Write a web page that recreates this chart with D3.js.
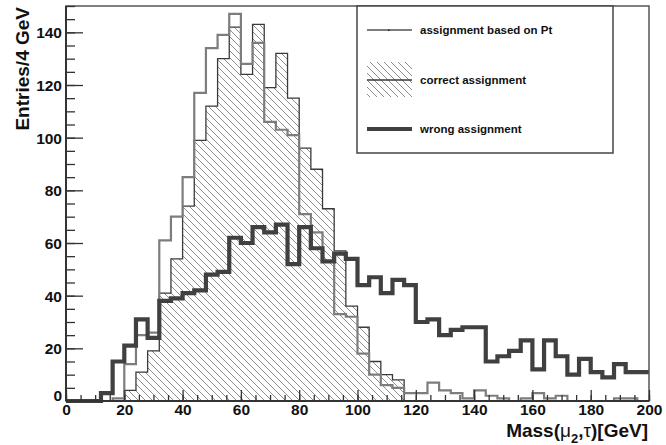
<!DOCTYPE html>
<html>
<head>
<meta charset="utf-8">
<script src="https://cdn.jsdelivr.net/npm/d3@7"></script>
<style>
  html, body { margin: 0; padding: 0; background: #fff; }
  svg { display: block; font-family: "Liberation Sans", Arial, Helvetica, sans-serif; }
</style>
</head>
<body>
<div id="chart"></div>
<script>
// bin low edges (4 GeV bins from 0 to 200)
const binEdges = [0,4,8,12,16,20,24,28,32,36,40,44,48,52,56,60,64,68,72,76,80,84,88,92,96,
    100,104,108,112,116,120,124,128,132,136,140,144,148,152,156,160,164,168,172,176,180,184,188,192,196];
const binWidth = 4;

// assignment based on Pt (grey line)
const ptBased = [0,0,0,0,1, 14,25,26,61,70, 85,117,134,139,147, 128,136,106,103,101,
    71,64,53,33,32, 18,10,6,5,3, 3,7,4,3,1, 4,2,1,0,1, 3,1,2,0,0, 0,0,1,1,0];
// correct assignment (hatched)
const correct = [0,0,0,0,0, 4,11,19,41,54, 74,99,112,130,142, 124,143,119,132,115,
    96,88,73,57,36, 28,15,10,8,0, 0,0,0,0,0, 0,0,0,0,0, 0,0,0,0,0, 0,0,0,0,0];
// wrong assignment (thick dark line)
const wrong = [0,0,0,3,15, 21,31,24,38,39, 41,42,48,49,62, 60,66,64,67,52,
    66,58,53,56,54, 44,47,41,46,44, 30,31,25,27,28, 28,15,17,19,23, 12,23,17,10,16, 11,9,14,11,11];

const yMajorTicks = [0,20,40,60,80,100,120,140];
const xMajorTicks = [0,20,40,60,80,100,120,140,160,180,200];
const legendLabels = ["assignment based on Pt", "correct assignment", "wrong assignment"];

const W = 666, H = 445;
const margin = {top: 6, right: 17, bottom: 44, left: 66};
const width = W - margin.left - margin.right,
      height = H - margin.top - margin.bottom;

const svg = d3.select("#chart").append("svg")
    .attr("width", W)
    .attr("height", H);

// hatch pattern (transparent between lines, like ROOT fill style)
const defs = svg.append("defs");
const hatch = defs.append("pattern")
    .attr("id", "hatch")
    .attr("patternUnits", "userSpaceOnUse")
    .attr("width", 7)
    .attr("height", 7);
hatch.append("path")
    .attr("d", "M0,0 L7,7 M-1,6 L1,8 M6,-1 L8,1")
    .attr("stroke", "#7a7a7a")
    .attr("stroke-width", 0.85);

const g = svg.append("g")
    .attr("transform", "translate(" + margin.left + "," + margin.top + ")");

const x = d3.scaleLinear().domain([0, 200]).range([0, width]);
const y = d3.scaleLinear().domain([0, 150]).range([height, 0]);

// step outline of a histogram
const stepPoints = (vals) => binEdges.flatMap((lo, i) => [[lo, vals[i]], [lo + binWidth, vals[i]]]);
const line = d3.line().x(d => x(d[0])).y(d => y(d[1]));

// correct assignment: hatched area + thin outline
const corrPts = stepPoints(correct);
g.append("path")
    .attr("d", line([[0, 0], ...corrPts, [200, 0]]) + "Z")
    .attr("fill", "url(#hatch)")
    .attr("stroke", "none");
g.append("path")
    .attr("d", line(corrPts))
    .attr("fill", "none")
    .attr("stroke", "#3a3a3a")
    .attr("stroke-width", 1.3);

// assignment based on Pt
g.append("path")
    .attr("d", line(stepPoints(ptBased)))
    .attr("fill", "none")
    .attr("stroke", "#7d7d7d")
    .attr("stroke-width", 2.2);

// wrong assignment
g.append("path")
    .attr("d", line(stepPoints(wrong)))
    .attr("fill", "none")
    .attr("stroke", "#404040")
    .attr("stroke-width", 4.2);

// frame
g.append("rect")
    .attr("width", width)
    .attr("height", height)
    .attr("fill", "none")
    .attr("stroke", "#555")
    .attr("stroke-width", 1.5);

// Y axis: major + minor ticks, pointing inward
const yAxis = g.append("g")
    .call(d3.axisLeft(y).tickValues(yMajorTicks).tickSize(-17).tickPadding(4));
g.append("g")
    .call(d3.axisLeft(y).tickValues(d3.range(0, 151, 5)).tickSize(-9).tickFormat(""));

// X axis
const xAxis = g.append("g")
    .attr("transform", "translate(0," + height + ")")
    .call(d3.axisBottom(x).tickValues(xMajorTicks).tickSize(-11).tickPadding(3));
g.append("g")
    .attr("transform", "translate(0," + height + ")")
    .call(d3.axisBottom(x).tickValues(d3.range(0, 201, 5)).tickSize(-6).tickFormat(""));

g.selectAll(".domain").remove();
g.selectAll(".tick line").attr("stroke", "#333").attr("stroke-width", 1.3);
g.selectAll(".tick text")
    .attr("fill", "#111")
    .style("font-size", "15.5px")
    .style("font-weight", "bold");
yAxis.selectAll(".tick text").attr("dy", "0.36em");
yAxis.selectAll(".tick").filter(d => d === 0).select("text").attr("y", -6);
xAxis.selectAll(".tick text").attr("dy", "0.71em");

// axis lines (left and bottom drawn darker)
g.append("line").attr("x1", 0).attr("x2", 0).attr("y1", 0).attr("y2", height)
    .attr("stroke", "#333").attr("stroke-width", 2);
g.append("line").attr("x1", 0).attr("x2", width).attr("y1", height).attr("y2", height)
    .attr("stroke", "#333").attr("stroke-width", 2);

// axis titles
svg.append("text")
    .attr("transform", "translate(29,7) rotate(-90)")
    .attr("text-anchor", "end")
    .style("font-size", "19px")
    .style("font-weight", "bold")
    .attr("fill", "#111")
    .text("Entries/4 GeV");

const xt = svg.append("text")
    .attr("x", 648)
    .attr("y", 437)
    .attr("text-anchor", "end")
    .style("font-size", "19px")
    .style("font-weight", "bold")
    .attr("fill", "#111");
xt.append("tspan").text("Mass(");
xt.append("tspan").style("font-weight", "normal").text("μ");
xt.append("tspan").attr("dy", 6).style("font-size", "13px").text("2");
xt.append("tspan").attr("dy", -6).text(",");
xt.append("tspan").style("font-weight", "normal").text("τ");
xt.append("tspan").text(")[GeV]");

// legend
const leg = svg.append("g");
leg.append("rect")
    .attr("x", 357).attr("y", 6)
    .attr("width", 256).attr("height", 147)
    .attr("fill", "#fff")
    .attr("stroke", "#444")
    .attr("stroke-width", 1.5);

const legY = [30, 80, 129];
// entry 1: grey line
leg.append("line").attr("x1", 367).attr("x2", 412).attr("y1", legY[0]).attr("y2", legY[0])
    .attr("stroke", "#7d7d7d").attr("stroke-width", 2);
leg.append("rect").attr("x", 388).attr("y", legY[0] - 0.5).attr("width", 1.5).attr("height", 1.5).attr("fill", "#222");
// entry 2: hatched box with line
leg.append("rect").attr("x", 367).attr("y", 62).attr("width", 45).attr("height", 35)
    .attr("fill", "url(#hatch)");
leg.append("line").attr("x1", 367).attr("x2", 412).attr("y1", legY[1]).attr("y2", legY[1])
    .attr("stroke", "#3a3a3a").attr("stroke-width", 1.3);
// entry 3: thick line
leg.append("line").attr("x1", 367).attr("x2", 412).attr("y1", legY[2]).attr("y2", legY[2])
    .attr("stroke", "#404040").attr("stroke-width", 4.2);

leg.selectAll("text.lab")
    .data(legendLabels)
    .join("text")
    .attr("class", "lab")
    .attr("x", 420)
    .attr("y", (d, i) => legY[i])
    .attr("dy", "0.36em")
    .style("font-size", "11.5px")
    .style("font-weight", "bold")
    .attr("fill", "#111")
    .text(d => d);
</script>
</body>
</html>
